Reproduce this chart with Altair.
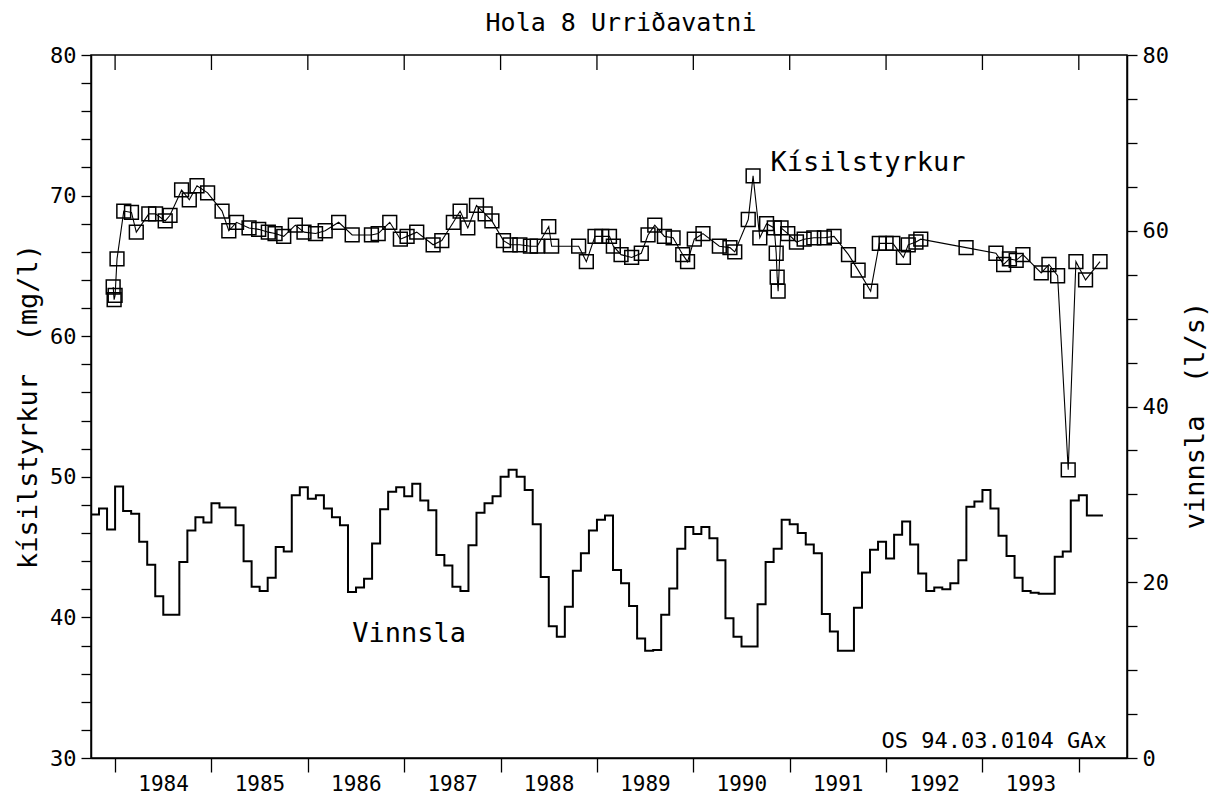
import altair as alt
import pandas as pd

FONT = "DejaVu Sans Mono"

# Kísilstyrkur (mg/l): sample time (decimal year) and value
si_t = [1983.98, 1983.99, 1984.00, 1984.02, 1984.09, 1984.17, 1984.22, 1984.35, 1984.42, 1984.52,
        1984.57, 1984.69, 1984.77, 1984.85, 1984.96, 1985.11, 1985.18, 1985.26, 1985.39, 1985.49,
        1985.59, 1985.66, 1985.75, 1985.87, 1985.96, 1986.08, 1986.18, 1986.32, 1986.46, 1986.66,
        1986.73, 1986.85, 1986.96, 1987.03, 1987.13, 1987.30, 1987.39, 1987.51, 1987.58, 1987.66,
        1987.75, 1987.84, 1987.91, 1988.03, 1988.10, 1988.20, 1988.31, 1988.38, 1988.50, 1988.53,
        1988.81, 1988.89, 1988.98, 1989.05, 1989.13, 1989.17, 1989.25, 1989.36, 1989.46, 1989.53,
        1989.60, 1989.70, 1989.79, 1989.89, 1989.94, 1990.01, 1990.10, 1990.27, 1990.38, 1990.43,
        1990.57, 1990.62, 1990.69, 1990.76, 1990.84, 1990.86, 1990.87, 1990.88, 1990.91, 1990.98,
        1991.07, 1991.15, 1991.25, 1991.36, 1991.46, 1991.61, 1991.71, 1991.84, 1991.93, 1992.00,
        1992.07, 1992.18, 1992.23, 1992.31, 1992.36, 1992.83, 1993.14, 1993.22, 1993.28, 1993.35,
        1993.42, 1993.61, 1993.69, 1993.78, 1993.89, 1993.97, 1994.07, 1994.22]
si_v = [63.5, 62.6, 62.9, 65.5, 68.9, 68.8, 67.4, 68.7, 68.7, 68.2,
        68.6, 70.4, 69.7, 70.7, 70.2, 68.9, 67.5, 68.1, 67.7, 67.6,
        67.4, 67.3, 67.1, 67.9, 67.4, 67.3, 67.5, 68.1, 67.2, 67.2,
        67.3, 68.1, 66.9, 67.1, 67.4, 66.5, 66.8, 68.1, 68.9, 67.7,
        69.3, 68.7, 68.2, 66.8, 66.5, 66.5, 66.4, 66.4, 67.8, 66.4,
        66.4, 65.3, 67.1, 67.1, 67.1, 66.4, 65.8, 65.6, 65.9, 67.2,
        67.9, 67.1, 67.0, 65.8, 65.3, 66.9, 67.3, 66.4, 66.3, 66.0,
        68.3, 71.4, 67.0, 68.0, 67.7, 65.9, 64.2, 63.2, 67.7, 67.3,
        66.7, 66.9, 67.0, 67.0, 67.1, 65.8, 64.7, 63.2, 66.6, 66.6,
        66.6, 65.6, 66.5, 66.7, 66.9, 66.3, 65.9, 65.1, 65.5, 65.4,
        65.8, 64.5, 65.1, 64.3, 50.5, 65.3, 64.0, 65.3]

# Vinnsla (l/s): monthly values starting October 1983
vin_start = "1983-10"
vin_v = [27.7, 28.4, 26.0, 30.9, 28.1, 27.8, 24.6, 22.0, 18.4, 16.3, 16.3, 22.3, 25.9, 27.4, 26.8,
         29.0, 28.5, 28.5, 26.5, 22.4, 19.5, 19.0, 20.5, 24.0, 23.5, 29.9, 30.8, 29.5, 29.9, 28.4,
         27.4, 26.5, 18.9, 19.4, 20.4, 24.4, 28.3, 30.3, 30.8, 29.8, 31.2, 29.3, 28.2,
         23.1, 21.9, 19.5, 19.0, 24.2, 27.9, 29.0, 29.8, 32.0, 32.8, 32.0, 30.5, 26.6, 20.6, 15.0,
         13.8, 17.2, 21.3, 23.3, 25.9, 27.1, 27.6, 21.4, 19.9, 17.3, 13.6, 12.2, 12.3, 16.3,
         19.3, 23.8, 26.3, 25.5, 26.3, 25.0, 22.5, 15.9, 13.8, 12.7, 12.7, 17.5, 22.3, 23.8,
         27.1, 26.6, 25.6, 24.3, 23.3, 16.4, 14.4, 12.2, 12.2, 17.1, 21.1, 23.7, 24.6, 22.7,
         25.4, 26.9, 24.3, 21.0, 19.0, 19.4, 19.2, 19.9, 22.5, 28.6, 29.2, 30.5, 28.4, 25.3,
         23.0, 20.5, 19.0, 18.8, 18.7, 18.7, 22.9, 23.5, 29.3, 29.9, 27.6, 27.6]

years = list(range(1984, 1995))

# text labels
notes = pd.DataFrame({
    "x": [1990.80, 1986.46],
    "y": [72.3, 38.8],
    "text": ["Kísilstyrkur", "Vinnsla"],
})
footer = pd.DataFrame({"x": [1994.29], "y": [31.2], "text": ["OS 94.03.0104 GAx"]})

si_df = pd.DataFrame({"t": si_t, "v": si_v})
months = pd.period_range(vin_start, periods=len(vin_v) + 1, freq="M")
vin_df = pd.DataFrame({
    "t": [p.year + (p.month - 1) / 12 for p in months],
    "v": vin_v + [vin_v[-1]],
})
yr_df = pd.DataFrame({"yr": years})

W, H = 1036, 703
xscale = alt.Scale(domain=[1983.75, 1994.5], nice=False, zero=False)
xaxis = alt.Axis(values=years, format="d", title=None, tickSize=14, labelPadding=1,
                 labelOffset=48, labelFlush=False, labelOverlap=False, labelFontSize=21,
                 labelExpr="datum.value >= 1994 ? '' : datum.label")

yleft = alt.Scale(domain=[30, 80], nice=False, zero=False)
yleft_axis = alt.Axis(values=list(range(30, 81, 2)), tickSize=10, labelPadding=5,
                      labelFontSize=22, labelOverlap=False,
                      labelExpr="datum.value % 10 == 0 ? datum.label : ''",
                      title="kísilstyrkur\u00a0\u00a0(mg/l)", titleFontSize=27,
                      titleAngle=270, titleX=-63, titleY=351, titleAlign="center",
                      titleBaseline="middle")
yright = alt.Scale(domain=[0, 80], nice=False, zero=True)
yright_axis = alt.Axis(orient="right", values=list(range(0, 81, 5)), tickSize=10,
                       labelPadding=5, labelFontSize=22, labelOverlap=False,
                       labelExpr="datum.value % 20 == 0 ? datum.label : ''",
                       title="vinnsla\u00a0\u00a0(l/s)", titleFontSize=27,
                       titleAngle=270, titleX=68, titleY=360, titleAlign="center",
                       titleBaseline="middle")

si_line = alt.Chart(si_df).mark_line(color="black", strokeWidth=1.1).encode(
    x=alt.X("t:Q", scale=xscale, axis=xaxis),
    y=alt.Y("v:Q", scale=yleft, axis=yleft_axis),
)
si_pts = alt.Chart(si_df).mark_point(shape="square", size=190, filled=False,
                                     color="black", strokeWidth=1.5, opacity=1).encode(
    x=alt.X("t:Q", scale=xscale, axis=xaxis),
    y=alt.Y("v:Q", scale=yleft, axis=yleft_axis),
)
note_txt = alt.Chart(notes).mark_text(font=FONT, fontSize=27, align="left",
                                      baseline="middle", color="black").encode(
    x=alt.X("x:Q", scale=xscale, axis=xaxis),
    y=alt.Y("y:Q", scale=yleft, axis=yleft_axis),
    text="text:N",
)
foot_txt = alt.Chart(footer).mark_text(font=FONT, fontSize=22, align="right",
                                       baseline="middle", color="black").encode(
    x=alt.X("x:Q", scale=xscale, axis=xaxis),
    y=alt.Y("y:Q", scale=yleft, axis=yleft_axis),
    text="text:N",
)
top_ticks = alt.Chart(yr_df).mark_rule(color="black", strokeWidth=1.3).encode(
    x=alt.X("yr:Q", scale=xscale, axis=xaxis),
    y=alt.value(0),
    y2=alt.value(15),
)

left = alt.layer(si_line, si_pts, note_txt, foot_txt, top_ticks)

vin_line = alt.Chart(vin_df).mark_line(color="black", strokeWidth=2,
                                       interpolate="step-after").encode(
    x=alt.X("t:Q", scale=xscale, axis=xaxis),
    y=alt.Y("v:Q", scale=yright, axis=yright_axis),
)

chart = alt.layer(left, vin_line).resolve_scale(y="independent").properties(
    width=W, height=H,
    padding={"left": 83, "top": 47, "right": 90, "bottom": 37},
    autosize=alt.AutoSizeParams(type="none"),
    title=alt.TitleParams("Hola 8 Urriðavatni", font=FONT, fontSize=25,
                          fontWeight="normal", anchor="middle", offset=8, dx=12,
                          color="black"),
).configure_axis(
    labelFont=FONT, titleFont=FONT, labelColor="black", titleColor="black",
    titleFontWeight="normal", domainColor="black", tickColor="black",
    domainWidth=1.5, tickWidth=1.3, grid=False,
).configure_view(stroke="black", strokeWidth=1.5)

chart.save("out.html", embed_options={"renderer": "svg", "actions": False})
